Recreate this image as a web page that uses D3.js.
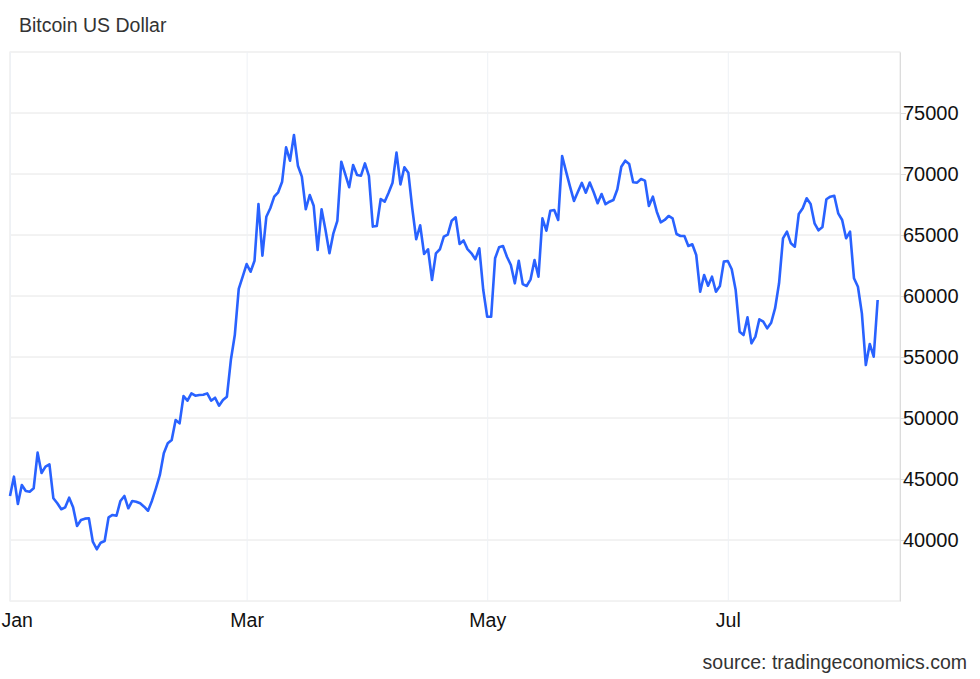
<!DOCTYPE html>
<html>
<head>
<meta charset="utf-8">
<script src="https://cdn.jsdelivr.net/npm/d3@7"></script>
<style>
    body { margin: 0; background: #fff; }
    svg { display: block; font-family: "Liberation Sans", Arial, sans-serif; }
</style>
</head>
<body>
<div id="chart"></div>
<script>
// daily closes, one array per month (2024)
const startDate = "2024-01-01";
const jan = [43610, 45190, 42950, 44510, 44020, 43960, 44240, 47160, 45490, 46010, 46200, 43420, 43010, 42520, 42680, 43470, 42680, 41150, 41640, 41750, 41780, 39860, 39240, 39780, 39920, 41860, 42050, 41990, 43200, 43610, 42600];
const feb = [43200, 43140, 43010, 42730, 42400, 43220, 44240, 45330, 47110, 47930, 48200, 49840, 49560, 51800, 51420, 52020, 51830, 51890, 51910, 52020, 51420, 51660, 51010, 51480, 51750, 54750, 56800, 60580, 61580];
const mar = [62620, 61990, 62890, 67540, 63310, 66500, 67190, 68140, 68500, 69370, 72190, 71090, 73200, 70680, 69780, 67110, 68280, 67400, 63770, 67110, 65410, 63500, 65140, 66150, 71010, 69990, 68920, 70740, 69920, 69860, 70870];
const apr = [69840, 65690, 65740, 67950, 67730, 68470, 69290, 71750, 69150, 70550, 70110, 67190, 64650, 65800, 63440, 63830, 61310, 63500, 63830, 64860, 65030, 66170, 66450, 64260, 64550, 63840, 63500, 63010, 63910, 60490];
const may = [58300, 58300, 63090, 63990, 64100, 63220, 62540, 61040, 62890, 60980, 60820, 61370, 62950, 61580, 66370, 65350, 66990, 67050, 66230, 71480, 70190, 68960, 67790, 68550, 69270, 68470, 69300, 68500, 67600, 68360, 67520];
const jun = [67730, 67870, 68750, 70600, 71090, 70820, 69320, 69290, 69590, 69460, 67380, 68140, 66910, 66040, 66230, 66560, 66370, 65080, 64920, 64920, 64100, 64240, 63360, 60350, 61720, 60840, 61580, 60350, 60820, 62820];
const jul = [62870, 62190, 60490, 57070, 56800, 58250, 56120, 56670, 58090, 57900, 57350, 57810, 59000, 61040, 64730, 65270, 64320, 64040, 66720, 67190, 68010, 67540, 65960, 65380, 65660, 67930, 68140, 68220, 66780, 66230, 64730];
const aug = [65270, 61450, 60760, 58580, 54340, 56070, 55030, 59670];

const yTicks = [40000, 45000, 50000, 55000, 60000, 65000, 70000, 75000];

const parse = d3.utcParse("%Y-%m-%d");
const start = parse(startDate);
const data = [].concat(jan, feb, mar, apr, may, jun, jul, aug)
    .map((v, i) => ({date: d3.utcDay.offset(start, i), value: v}));

const height = 679,
    width = 980,
    margin = ({top: 52, right: 80, bottom: 78, left: 10});

let svg = d3.select("#chart")
    .append("svg")
    .attr("width", width)
    .attr("height", height)
    .attr("viewBox", [0, 0, width, height]);

let x = d3.scaleUtc()
    .domain([start, d3.utcHour.offset(start, 225.7 * 24)])
    .range([margin.left, width - margin.right]);

let y = d3.scaleLinear()
    .domain([35000, 80000])
    .range([height - margin.bottom, margin.top]);

// frame
svg.append("rect")
    .attr("x", margin.left)
    .attr("y", margin.top)
    .attr("width", width - margin.right - margin.left)
    .attr("height", height - margin.bottom - margin.top)
    .attr("fill", "none")
    .attr("stroke", "#e6e6e6");

const xAxis = g => g
    .attr("transform", `translate(0,${height - margin.bottom})`)
    .call(d3.axisBottom(x).ticks(d3.utcMonth.every(2)).tickFormat(d3.utcFormat("%b"))
        .tickSize(-(height - margin.bottom - margin.top)).tickPadding(12))
    .call(g => g.select(".domain").remove())
    .call(g => g.selectAll(".tick line").attr("stroke", "#eef1f5"))
    .call(g => g.selectAll(".tick text")
        .attr("fill", "#111")
        .attr("font-size", 19.5))
    .call(g => g.select(".tick:first-of-type text").attr("text-anchor", "start").attr("x", -9));

const yAxis = g => g
    .attr("transform", `translate(${width - margin.right}, 0)`)
    .call(d3.axisRight(y).tickValues(yTicks).tickFormat(d3.format("d"))
        .tickSizeInner(6).tickSizeOuter(0).tickPadding(0))
    .call(g => g.select(".domain").attr("stroke", "#dcdcdc"))
    .call(g => g.selectAll(".tick line").attr("stroke", "#dcdcdc"))
    .call(g => g.selectAll(".tick text")
        .attr("x", 3)
        .attr("fill", "#111")
        .attr("font-size", 20));

// horizontal grid
svg.append("g")
    .selectAll("line")
    .data(yTicks)
    .join("line")
    .attr("x1", margin.left)
    .attr("x2", width - margin.right)
    .attr("y1", d => y(d))
    .attr("y2", d => y(d))
    .attr("stroke", "#e6e6e6");

svg.append("g")
    .call(xAxis);

svg.append("g")
    .call(yAxis);

let line = d3.line()
    .x(d => x(d.date))
    .y(d => y(d.value));

svg.append("path")
    .datum(data)
    .attr("fill", "none")
    .attr("stroke", "#2962ff")
    .attr("stroke-width", 2.6)
    .attr("stroke-linejoin", "round")
    .attr("d", line);

svg.append("text")
    .attr("x", 19)
    .attr("y", 32)
    .attr("fill", "#333")
    .attr("font-size", 19.5)
    .text("Bitcoin US Dollar");

svg.append("text")
    .attr("x", 967)
    .attr("y", 669)
    .attr("text-anchor", "end")
    .attr("fill", "#333")
    .attr("font-size", 19.5)
    .text("source: tradingeconomics.com");
</script>
</body>
</html>
